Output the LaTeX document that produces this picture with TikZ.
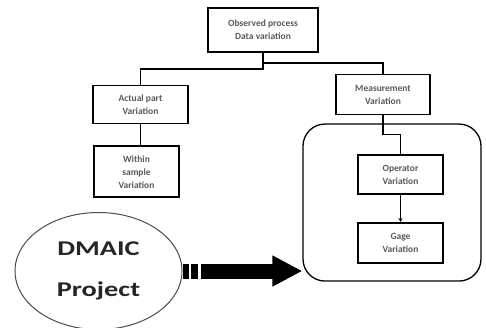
\documentclass[tikz,border=0pt]{standalone}
\usepackage{fontspec}
\setmainfont{Carlito}
\usepackage{tikz}
\usetikzlibrary{shapes.geometric, arrows.meta, positioning, calc}
\tikzstyle{process} = [rectangle, minimum width=85pt, minimum height=39pt, inner sep=0pt, align=center, draw=black, line width=1.6pt, text=black!65, font=\fontsize{9.5}{13}\selectfont\bfseries]
\tikzstyle{group} = [rectangle, rounded corners=22pt, minimum width=178pt, minimum height=157pt, draw=black, line width=1.3pt]
\tikzstyle{project} = [ellipse, minimum width=167pt, minimum height=117pt, inner sep=0pt, align=center, draw=black!70, line width=1pt, text=black!85, font=\fontsize{21}{41}\selectfont\bfseries]
\tikzstyle{line} = [line width=1.6pt]
\tikzstyle{arrow} = [line width=0.8pt, -{Stealth[length=4pt, width=4pt]}]
\tikzstyle{bigarrow} = [line width=15pt, dash pattern=on 6pt off 2pt on 7pt off 3pt on 400pt off 0pt, -{Triangle[length=30pt, width=29pt]}]

\begin{document}
\begin{tikzpicture}[x=1pt, y=-1pt]
\useasboundingbox (0,0) rectangle (486,327);

% Variation tree
\node (observed) [process, minimum width=110pt, minimum height=44pt] at (263,30) {Observed process\\Data variation};
\node (actual) [process, minimum width=95pt, minimum height=38pt, below=32pt of observed, xshift=-122.5pt] {Actual part\\Variation};
\node (within) [process, minimum height=51pt, below=21pt of actual, xshift=-4pt] {Within\\sample\\Variation};
\node (measure) [process, minimum width=94pt, minimum height=40pt, below=21pt of observed, xshift=120pt] {Measurement\\Variation};

% Measurement group
\node (msa) [group, below=8pt of measure, xshift=9pt] {};
\node (operator) [process, below=39pt of measure, xshift=17.5pt] {Operator\\Variation};
\node (gage) [process, minimum height=40pt, below=27pt of operator] {Gage\\Variation};

% Project
\node (dmaic) [project, below=14pt of within, xshift=-38pt] {\scalebox{1.35}[1]{DMAIC}\\\scalebox{1.35}[1]{Project}};

% Connectors
\draw [line] (observed.south) -- ++(0,16) -| (actual.north);
\draw [line] (observed.south) -- ++(0,10) -| (measure.north);
\draw [line] (actual.south) -- (actual.south |- within.north);
\draw [line] (measure.south) -- ++(0,19) -| (operator.north);
\draw [arrow] (operator.south) -- (gage.north);
\draw [bigarrow] (dmaic.east) -- (dmaic.east -| msa.west);

\end{tikzpicture}
\end{document}
